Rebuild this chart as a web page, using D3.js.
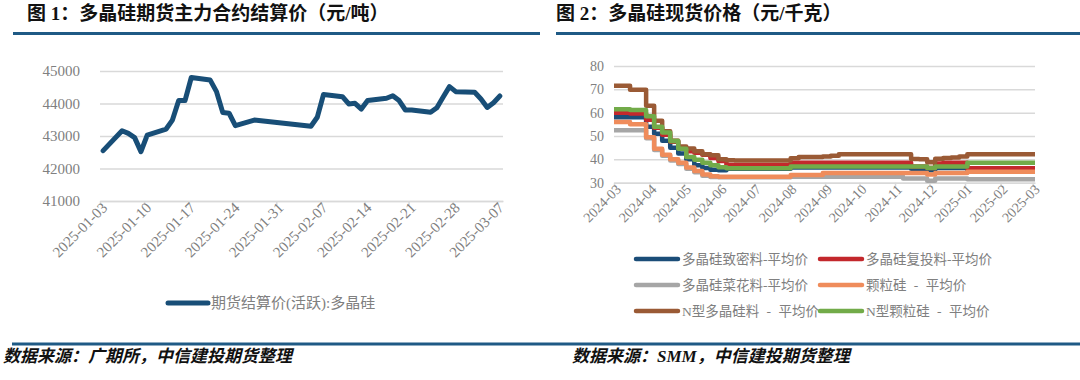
<!DOCTYPE html>
<html><head><meta charset="utf-8">
<script src="https://cdn.jsdelivr.net/npm/d3@7"></script>
<style>
html,body{margin:0;padding:0;background:#fff;}
svg{display:block;}
text{font-family:"Liberation Serif","Noto Sans CJK SC",serif;}
</style></head><body>
<svg id="c" width="1080" height="380"></svg>
<script>
// ---------- Chart 1 data ----------
const futDates = ["2025-01-03","2025-01-06","2025-01-07","2025-01-08","2025-01-09","2025-01-10",
  "2025-01-13","2025-01-14","2025-01-15","2025-01-16","2025-01-17",
  "2025-01-20","2025-01-21","2025-01-22","2025-01-23","2025-01-24",
  "2025-01-27","2025-02-05","2025-02-06","2025-02-07",
  "2025-02-10","2025-02-11","2025-02-12","2025-02-13","2025-02-14",
  "2025-02-17","2025-02-18","2025-02-19","2025-02-20","2025-02-21",
  "2025-02-24","2025-02-25","2025-02-26","2025-02-27","2025-02-28",
  "2025-03-03","2025-03-04","2025-03-05","2025-03-06","2025-03-07"];
const futValues = [42550,43160,43080,42950,42520,43030,
  43215,43490,44090,44090,44800,
  44720,44365,43720,43700,43320,
  43490,43300,43575,44280,
  44210,43985,44005,43830,44090,
  44160,44240,44090,43800,43800,
  43730,43870,44200,44520,44365,
  44345,44140,43880,44025,44230];
const futTickLabels = ["2025-01-03","2025-01-10","2025-01-17","2025-01-24","2025-01-31","2025-02-07",
  "2025-02-14","2025-02-21","2025-02-28","2025-03-07"];
const futYTicks = [41000,42000,43000,44000,45000];
const futSeriesName = "期货结算价(活跃):多晶硅";

// ---------- Chart 2 data ----------
const spotDates = ["2024-03-01","2024-03-08","2024-03-15","2024-03-22","2024-03-29",
  "2024-04-05","2024-04-12","2024-04-19","2024-04-26",
  "2024-05-03","2024-05-10","2024-05-17","2024-05-24","2024-05-31",
  "2024-06-07","2024-06-14","2024-06-21","2024-06-28",
  "2024-07-05","2024-07-12","2024-07-19","2024-07-26",
  "2024-08-02","2024-08-09","2024-08-16","2024-08-23","2024-08-30",
  "2024-09-06","2024-09-13","2024-09-20","2024-09-27",
  "2024-10-04","2024-10-11","2024-10-18","2024-10-25",
  "2024-11-01","2024-11-08","2024-11-15","2024-11-22","2024-11-29",
  "2024-12-06","2024-12-13","2024-12-20","2024-12-27",
  "2025-01-03","2025-01-10","2025-01-17","2025-01-24","2025-01-31",
  "2025-02-07","2025-02-14","2025-02-21","2025-02-28","2025-03-03"];
const denseValues = [58,58,58,58, 54,51,48,45,42.5,40,37.5,36.3,35.5,35.3,
  36,36,36,36,36,36,36,36,
  36.5,36.5,36.5,36.5,36.5,36.5,36.5,36.5,36.5,36.5,36.5,36.5,36.5,36.5,36.5,
  36,36,35.3,36.3,36.3,36.3,36.3,
  35.5,35.5,35.5,35.5,35.5,35.5,35.5,35.5,35.5,35.5];
const rechargeValues = [60,60,59.7,59.7, 57,53.5,50.5,48,45,43.5,42.8,42,40.6,39.3,
  37.6,37.6,37.6,37.6,37.6,37.6,37.6,37.6,
  38.6,38.6,38.6,38.6,38.6,38.6,38.6,38.6,38.6,38.6,38.6,38.6,38.6,38.6,38.6,
  36.9,36.9,36.3,38.2,38.5,38.5,38.5,
  36.2,36.2,36.2,36.2,36.2,36.2,36.2,36.2,36.2,36.2];
const cauliflowerValues = [52.5,52.5,52.5,52.5, 49,44,41.5,39.5,38,36,34.5,33,32.4,32.3,
  32.3,32.3,32.3,32.3,32.3,32.3,32.3,32.3,
  32.6,32.6,32.6,32.6,32.6,32.6,32.6,32.6,32.6,32.6,32.6,32.6,32.6,32.6,31.8,
  31.8,31.8,30.8,31.8,31.8,31.8,31.8,
  31.5,31.5,31.5,31.5,31.5,31.5,31.5,31.5,31.5,31.5];
const granularValues = [56,56,55,55, 49.5,44.5,42,40,38.5,36.5,35,33.5,32.8,32.6,
  32.6,32.6,32.6,32.6,32.6,32.6,32.6,32.6,
  33.3,33.3,33.3,33.3,34.2,34.2,34.2,34.2,34.2,34.2,34.2,34.2,34.2,34.2,34.2,
  34.2,34.2,33.5,34.2,34.2,34.2,34.2,
  34.7,34.7,34.7,34.7,34.7,34.7,34.7,34.7,34.7,34.7];
const nTypeValues = [71.5,71.5,69.8,69.8, 63,56.5,52,47.5,45.5,44.7,43.5,42.2,41.8,40,
  39.6,39.5,39.5,39.5,39.5,39.5,39.5,39.5,
  40.5,41,41,41,41.2,41.5,42.2,42.2,42.2,42.2,42.2,42.2,42.2,42.2,42.2,
  40.2,40.1,38.8,40.3,40.6,40.8,41.2,
  42.2,42.2,42.2,42.2,42.2,42.2,42.2,42.2,42.2,42.2];
const nGranularValues = [61.5,61.5,61.2,61.2, 58.5,54,51.5,48,44.5,41,39.8,38.6,37.5,36.6,
  36.2,36.2,36.2,36.2,36.2,36.2,36.2,36.2,
  36.9,36.9,36.9,36.9,36.9,36.9,36.9,36.9,36.9,36.9,36.9,36.9,36.9,36.9,36.9,
  36.9,36.9,36.3,36.9,36.9,36.9,36.9,
  38.6,38.6,38.6,38.6,38.6,38.6,38.6,38.6,38.6,38.6];
const spotNames = ["多晶硅致密料-平均价","多晶硅复投料-平均价","多晶硅菜花料-平均价","颗粒硅 - 平均价","N型多晶硅料 - 平均价","N型颗粒硅 - 平均价"];
const spotColors = ["#1b4d78","#c3282c","#a6a6a6","#ef8c5b","#9a5a35","#72ab49"];
const spotTickLabels = ["2024-03","2024-04","2024-05","2024-06","2024-07","2024-08","2024-09",
  "2024-10","2024-11","2024-12","2025-01","2025-02","2025-03"];
const spotYTicks = [30,40,50,60,70,80];

// ---------- drawing ----------
const pd = d3.timeParse("%Y-%m-%d");
const pm = d3.timeParse("%Y-%m");
const svg = d3.select("#c");
const ruleColor = "#1f5a85";
const labelColor = "#808080";
const gridColor = "#d9d9d9";

// headers
svg.append("text").attr("x",27).attr("y",20).attr("font-size",19).attr("font-weight","bold")
  .attr("fill","#111").text("图 1：多晶硅期货主力合约结算价（元/吨）");
svg.append("text").attr("x",556).attr("y",20).attr("font-size",19).attr("font-weight","bold")
  .attr("fill","#111").text("图 2：多晶硅现货价格（元/千克）");
svg.append("rect").attr("x",13).attr("y",32).attr("width",527).attr("height",3).attr("fill",ruleColor);
svg.append("rect").attr("x",556).attr("y",32).attr("width",524).attr("height",3).attr("fill",ruleColor);
svg.append("rect").attr("x",12).attr("y",342.5).attr("width",1068).attr("height",3).attr("fill",ruleColor);
svg.append("text").attr("x",3).attr("y",362).attr("font-size",17).attr("font-weight","bold")
  .attr("font-style","italic").attr("fill","#111").text("数据来源：广期所，中信建投期货整理");
svg.append("text").attr("x",572).attr("y",362).attr("font-size",17).attr("font-weight","bold")
  .attr("font-style","italic").attr("fill","#111").text("数据来源：SMM，中信建投期货整理");

function styleAxis(g){
  g.selectAll(".domain").attr("stroke",gridColor).attr("stroke-width",1.5);
  g.selectAll(".tick line").attr("stroke",gridColor).attr("stroke-width",1.5);
  g.selectAll("text").attr("fill",labelColor).attr("font-family",'"Liberation Serif",serif');
}

// ----- Chart 1 -----
const xL = d3.scaleTime().domain([pd("2025-01-03"), pd("2025-03-08")]).range([100, 503]);
const yL = d3.scaleLinear().domain([41000,45000]).range([201,71]);
const gyL = svg.append("g").attr("transform","translate(100,0)")
  .call(d3.axisLeft(yL).tickValues(futYTicks).tickSize(-403).tickPadding(20).tickFormat(d3.format("d")));
gyL.select(".domain").remove();
styleAxis(gyL);
gyL.selectAll("text").attr("font-size",15);
const gxL = svg.append("g").attr("transform","translate(0,201)")
  .call(d3.axisBottom(xL).tickValues(futTickLabels.map(pd)).tickSize(4).tickSizeOuter(0).tickFormat(d3.timeFormat("%Y-%m-%d")));
styleAxis(gxL);
gxL.selectAll("text").attr("font-size",15).attr("text-anchor","end")
  .attr("transform","translate(4,4) rotate(-45)").attr("x",0).attr("y",0).attr("dy","0.35em");

const futData = futDates.map((d,i)=>({d:pd(d), v:futValues[i]}));
const lineL = d3.line().x(p=>xL(d3.timeHour.offset(p.d,12))).y(p=>yL(p.v));
svg.append("path").datum(futData).attr("d",lineL).attr("fill","none")
  .attr("stroke","#184e77").attr("stroke-width",5).attr("stroke-linejoin","round").attr("stroke-linecap","round");
// legend 1
svg.append("line").attr("x1",168).attr("x2",208).attr("y1",303).attr("y2",303)
  .attr("stroke","#184e77").attr("stroke-width",5).attr("stroke-linecap","round");
svg.append("text").attr("x",211).attr("y",303).attr("dy","0.35em").attr("font-size",15)
  .attr("fill",labelColor).text(futSeriesName);

// ----- Chart 2 -----
const xR = d3.scaleTime().domain([pd("2024-03-01"), pd("2025-03-03")]).range([614, 1035]);
const yR = d3.scaleLinear().domain([30,80]).range([182.7,66]);
const gyR = svg.append("g").attr("transform","translate(614,0)")
  .call(d3.axisLeft(yR).tickValues(spotYTicks).tickSize(-421).tickPadding(10));
gyR.select(".domain").remove();
styleAxis(gyR);
gyR.selectAll("text").attr("font-size",14);
const gxR = svg.append("g").attr("transform","translate(0,182.7)")
  .call(d3.axisBottom(xR).tickValues(spotTickLabels.map(pm)).tickSize(4).tickSizeOuter(0).tickFormat(d3.timeFormat("%Y-%m")));
styleAxis(gxR);
gxR.selectAll("text").attr("font-size",14).attr("text-anchor","end")
  .attr("transform","translate(4,4) rotate(-45)").attr("x",0).attr("y",0).attr("dy","0.35em");

const spotSeries = [denseValues, rechargeValues, cauliflowerValues, granularValues, nTypeValues, nGranularValues];
const lineR = d3.line().curve(d3.curveStepAfter).x(p=>xR(p.d)).y(p=>yR(p.v));
spotSeries.forEach((vals,k)=>{
  const data = spotDates.map((d,i)=>({d:pd(d), v:vals[i]}));
  svg.append("path").datum(data).attr("d",lineR).attr("fill","none")
    .attr("stroke",spotColors[k]).attr("stroke-width",4.5).attr("stroke-linejoin","round");
});
// legend 2
const legX = [634, 818], legY = [259, 285, 311];
spotNames.forEach((n,k)=>{
  const cx = legX[k%2], cy = legY[Math.floor(k/2)];
  svg.append("line").attr("x1",cx+2).attr("x2",cx+44).attr("y1",cy).attr("y2",cy)
    .attr("stroke",spotColors[k]).attr("stroke-width",4.5).attr("stroke-linecap","round");
  svg.append("text").attr("x",cx+48).attr("y",cy).attr("dy","0.35em").attr("font-size",13.5)
    .attr("word-spacing","4px").attr("fill",labelColor).text(n);
});
</script>
</body></html>
